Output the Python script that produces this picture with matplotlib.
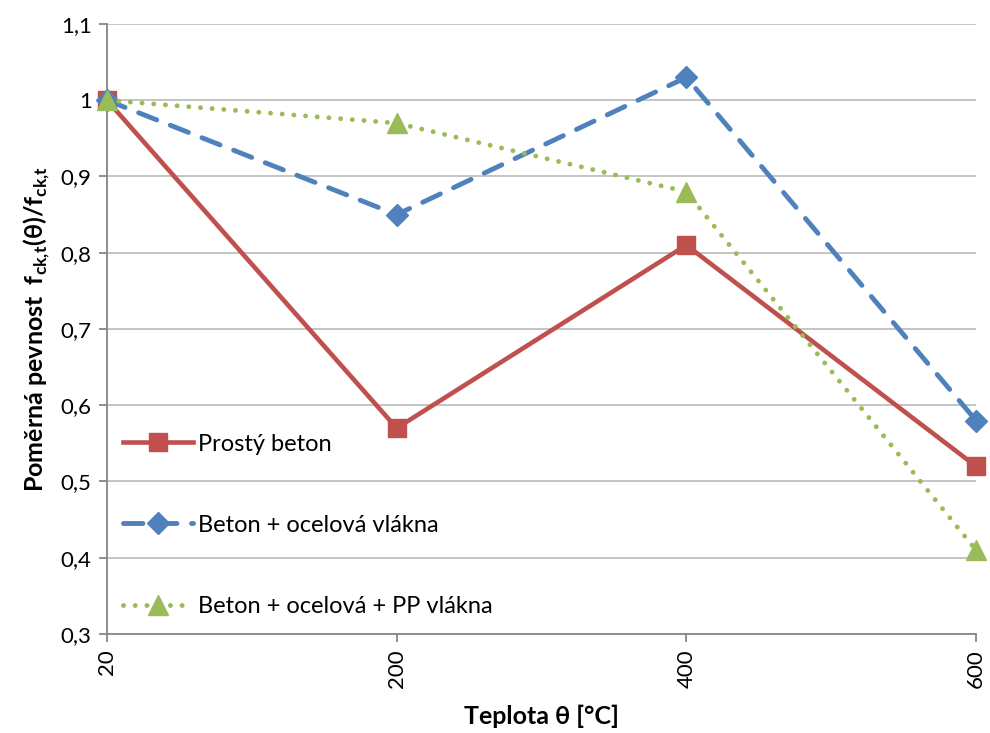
import matplotlib
matplotlib.use("Agg")
import matplotlib.pyplot as plt
from matplotlib.ticker import FuncFormatter, MultipleLocator

categories = ["20", "200", "400", "600"]
prosty = [1.0, 0.57, 0.81, 0.52]
ocel = [1.0, 0.85, 1.03, 0.58]
ocel_pp = [1.0, 0.97, 0.88, 0.41]
labels = ["Prostý beton", "Beton + ocelová vlákna", "Beton + ocelová + PP vlákna"]

plt.rcParams['font.family'] = ['Lato', 'DejaVu Sans']
plt.rcParams['mathtext.fontset'] = 'custom'
plt.rcParams['mathtext.rm'] = 'Lato'
plt.rcParams['mathtext.bf'] = 'Lato:bold'

fig = plt.figure(figsize=(9.9, 7.33), dpi=100)
ax = fig.add_axes([107/990, 1-634/733, (976-107)/990, (634-24)/733])

x = list(range(len(categories)))
ax.plot(x, prosty, color='#C0504D', lw=3.3, marker='s', markersize=13,
        label=labels[0], zorder=3, clip_on=False)
ax.plot(x, ocel, color='#4F81BD', lw=3.5, linestyle=(0, (4.0, 3.0)),
        dash_capstyle='round', marker='D', markersize=11, label=labels[1], zorder=4,
        clip_on=False)
ax.plot(x, ocel_pp, color='#9BBB59', lw=3.5, linestyle=(0, (0.01, 2.4)),
        dash_capstyle='round', marker='^', markersize=14, label=labels[2], zorder=5,
        clip_on=False)

ax.set_xlim(0, 3)
ax.set_ylim(0.3, 1.1)
ax.yaxis.set_major_locator(MultipleLocator(0.1))
ax.yaxis.set_major_formatter(FuncFormatter(lambda v, p: ('%g' % round(v, 2)).replace('.', ',')))
ax.set_xticks(x)
ax.set_xticklabels(categories, rotation=90)
ax.grid(axis='y', color='#BFBFBF', lw=1.3)
ax.set_axisbelow(True)
for s in ['top', 'right']:
    ax.spines[s].set_visible(False)
for s in ['left', 'bottom']:
    ax.spines[s].set_color('#868686')
    ax.spines[s].set_linewidth(1.3)
ax.tick_params(axis='both', colors='#868686', length=6, width=1.3, labelsize=16,
               labelcolor='black')
ax.tick_params(axis='y', pad=5)
ax.tick_params(axis='x', pad=5)

ax.set_xlabel('Teplota θ [°C]', fontsize=18, fontweight='bold', labelpad=12)
ax.set_ylabel(r'Poměrná pevnost  f$_\mathbf{ck{,}t}$(θ)/f$_\mathbf{ck{,}t}$',
              fontsize=18, fontweight='bold', labelpad=6)

leg = ax.legend(loc='lower left', bbox_to_anchor=(0.018, 0.028), borderaxespad=0,
                borderpad=0, frameon=False, fontsize=17, labelspacing=2.55,
                handlelength=3.0, handletextpad=0.2, numpoints=1)

fig.savefig('out.png', dpi=100)
